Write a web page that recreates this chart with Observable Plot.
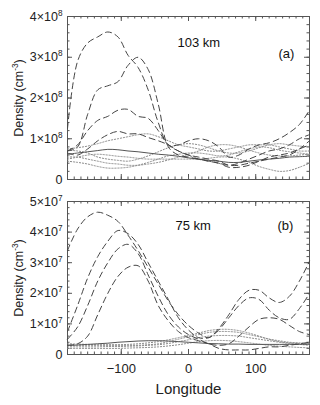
<!DOCTYPE html>
<html><head><meta charset="utf-8">
<script src="https://cdn.jsdelivr.net/npm/d3@7"></script>
<script src="https://cdn.jsdelivr.net/npm/@observablehq/plot@0.6"></script>
<style>
body{margin:0;background:#fff;font-family:"Liberation Sans",Arial,sans-serif;}
svg{display:block}
</style></head><body><div id="chart"></div>
<script>
// longitude grid
const lon = [-180,-165,-150,-135,-120,-105,-90,-75,-60,-45,-30,-15,0,15,30,45,60,75,90,105,120,135,150,165,180];

// 103 km panel (units of 1e8 cm^-3)
const top_dash1 = [1.25,2.9,3.35,3.5,3.62,3.5,3.05,2.75,2.2,1.4,0.85,0.85,0.95,1.0,0.95,0.8,0.55,0.6,0.75,0.85,0.9,1.0,1.15,1.35,1.7];
const top_dash2 = [0.7,0.8,1.6,2.2,2.3,2.4,2.8,3.0,2.7,1.85,0.8,0.6,0.55,0.5,0.45,0.4,0.35,0.4,0.5,0.6,0.7,0.75,0.85,1.0,1.1];
const top_dash3 = [0.7,0.85,1.2,1.45,1.55,1.7,1.72,1.55,1.5,1.2,0.85,0.7,0.6,0.55,0.5,0.45,0.35,0.35,0.4,0.45,0.5,0.55,0.6,0.75,0.95];
const top_dash4 = [0.65,0.6,0.75,0.95,1.1,1.18,1.12,1.12,1.03,0.95,0.85,0.7,0.6,0.5,0.45,0.4,0.3,0.3,0.35,0.45,0.55,0.6,0.65,0.75,0.85];
const top_solid = [0.62,0.65,0.68,0.71,0.74,0.73,0.7,0.68,0.65,0.62,0.6,0.57,0.53,0.5,0.47,0.45,0.42,0.42,0.45,0.48,0.5,0.52,0.55,0.56,0.57];
const top_dot1 = [0.75,0.78,0.82,0.88,0.95,1.0,1.05,1.1,1.12,1.05,0.95,0.85,0.8,0.75,0.7,0.7,0.75,0.8,0.85,0.85,0.85,0.8,0.75,0.7,0.7];
const top_dot2 = [0.55,0.55,0.5,0.45,0.4,0.38,0.35,0.35,0.38,0.42,0.48,0.55,0.62,0.7,0.8,0.85,0.85,0.8,0.72,0.65,0.6,0.58,0.58,0.6,0.62];
const top_dot3 = [0.5,0.55,0.6,0.62,0.6,0.57,0.55,0.52,0.5,0.5,0.5,0.5,0.5,0.5,0.52,0.55,0.55,0.5,0.42,0.32,0.25,0.2,0.22,0.3,0.4];
const top_dot4 = [0.72,0.7,0.65,0.55,0.5,0.47,0.45,0.5,0.58,0.68,0.78,0.85,0.88,0.85,0.78,0.7,0.65,0.65,0.7,0.78,0.85,0.88,0.85,0.82,0.8];
const top_dot5 = [0.45,0.42,0.38,0.32,0.28,0.28,0.3,0.35,0.42,0.5,0.58,0.62,0.65,0.65,0.62,0.58,0.6,0.68,0.75,0.8,0.78,0.72,0.68,0.65,0.62];

// 75 km panel (units of 1e7 cm^-3)
const bot_dash1 = [3.4,4.1,4.5,4.65,4.55,4.35,3.9,3.4,2.85,2.3,1.75,1.3,0.95,0.7,0.55,0.85,1.3,1.8,2.1,2.1,1.85,1.7,1.9,2.4,3.05];
const bot_dash2 = [0.75,1.6,2.5,3.2,3.7,4.05,3.95,3.6,3.0,2.4,1.8,1.2,0.8,0.55,0.55,0.8,1.2,1.6,1.85,1.8,1.45,1.2,1.15,1.5,2.0];
const bot_dash3 = [0.5,0.9,1.6,2.4,3.0,3.45,3.6,3.3,2.6,1.9,1.3,0.9,0.65,0.5,0.35,0.3,0.35,0.6,0.9,1.15,1.2,1.15,0.95,0.75,0.65];
const bot_dash4 = [0.3,0.35,0.6,1.3,2.0,2.55,2.85,2.9,2.4,1.6,1.1,0.75,0.55,0.45,0.35,0.2,0.15,0.15,0.15,0.2,0.25,0.25,0.3,0.35,0.4];
const bot_solid = [0.3,0.31,0.33,0.35,0.37,0.4,0.42,0.44,0.45,0.45,0.44,0.42,0.4,0.38,0.36,0.35,0.34,0.34,0.33,0.33,0.33,0.33,0.33,0.33,0.33];
const bot_dot1 = [0.3,0.3,0.3,0.3,0.3,0.3,0.3,0.3,0.32,0.35,0.42,0.5,0.58,0.65,0.72,0.75,0.75,0.72,0.65,0.58,0.5,0.45,0.4,0.38,0.35];
const bot_dot2 = [0.25,0.25,0.25,0.25,0.26,0.26,0.27,0.28,0.3,0.32,0.36,0.42,0.48,0.55,0.6,0.62,0.62,0.6,0.55,0.5,0.45,0.4,0.36,0.33,0.3];
const bot_dot3 = [0.2,0.2,0.2,0.2,0.2,0.2,0.21,0.22,0.23,0.25,0.28,0.32,0.37,0.42,0.45,0.46,0.45,0.42,0.38,0.34,0.3,0.27,0.25,0.23,0.22];
const bot_dot4 = [0.35,0.34,0.33,0.32,0.32,0.32,0.33,0.35,0.38,0.42,0.48,0.55,0.62,0.7,0.78,0.82,0.82,0.78,0.7,0.6,0.5,0.42,0.38,0.36,0.35];

// ticks and labels
const xMajor = [-100,0,100];
const xMinor = d3.range(-180,181,10);
const topYMajor = [0,1e8,2e8,3e8,4e8];
const topYMinor = d3.range(0,4.01e8,0.2e8);
const botYMajor = [0,1e7,2e7,3e7,4e7,5e7];
const botYMinor = d3.range(0,5.01e7,0.2e7);
const topTitle = "103 km", topTag = "(a)";
const botTitle = "75 km", botTag = "(b)";
const yTitle = "Density (cm^-3)";
const xTitle = "Longitude";

function rows(groups, unit){
  const out = [];
  for (const [name, style, vals] of groups)
    vals.forEach((v,i)=>out.push({series:name, style, lon:lon[i], v:v*unit}));
  return out;
}
const FONT = "Liberation Sans, Arial, sans-serif";
const W = 320, ML = 67, MR = 11;
const PW = W - ML - MR;

// turn "a^b" text into base + raised superscript tspan
function superscripts(svg){
  svg.querySelectorAll("text").forEach(t=>{
    const s = t.textContent;
    if (!s.includes("^") || t.children.length) return;
    const [base, rest] = s.split("^");
    const m = rest.match(/^(-?\d+)(.*)$/);
    const fs = parseFloat(t.getAttribute("font-size") || getComputedStyle(t).fontSize) || 12;
    t.textContent = "";
    const ns = "http://www.w3.org/2000/svg";
    const a = document.createElementNS(ns,"tspan"); a.textContent = base; t.appendChild(a);
    const b = document.createElementNS(ns,"tspan"); b.textContent = m[1].replace("-","−").replace("−","-");
    b.setAttribute("dy", (-fs*0.42).toFixed(1)); b.setAttribute("font-size", (fs*0.68).toFixed(1)); t.appendChild(b);
    if (m[2]) { const c = document.createElementNS(ns,"tspan"); c.textContent = m[2]; c.setAttribute("dy",(fs*0.42).toFixed(1)); t.appendChild(c); }
  });
}

function panel({data, yDomain, yMajor, yMinor, exp, height, mt, mb, title, tag, titleDx, titleDy, tagDx, tagDy, showX}){
  const PH = height - mt - mb;
  const lineOpts = {x:"lon", y:"v", z:"series", curve:"catmull-rom", strokeWidth:1};
  const fmt = v => v===0 ? "0" : `${Math.round(v/Math.pow(10,exp))}×10^${exp}`;
  const tickCol = "#555";
  const marks = [
    Plot.frame({stroke:"#555", strokeWidth:1}),
    Plot.tickX(xMajor,{x:d=>d, insetTop:PH-5, stroke:tickCol}),
    Plot.tickX(xMinor,{x:d=>d, insetTop:PH-2.5, stroke:tickCol}),
    Plot.tickX(xMajor,{x:d=>d, insetBottom:PH-5, stroke:tickCol}),
    Plot.tickX(xMinor,{x:d=>d, insetBottom:PH-2.5, stroke:tickCol}),
    Plot.tickY(yMajor,{y:d=>d, insetRight:PW-5, stroke:tickCol}),
    Plot.tickY(yMinor,{y:d=>d, insetRight:PW-2.5, stroke:tickCol}),
    Plot.tickY(yMajor,{y:d=>d, insetLeft:PW-5, stroke:tickCol}),
    Plot.tickY(yMinor,{y:d=>d, insetLeft:PW-2.5, stroke:tickCol}),
    Plot.axisY({ticks:yMajor, tickSize:0, tickPadding:5, tickFormat:fmt, fontSize:12.5, fill:"#222"}),
    Plot.line(data.filter(d=>d.style==="dot"), {...lineOpts, stroke:"#888", strokeDasharray:"1.2,1.8"}),
    Plot.line(data.filter(d=>d.style==="solid"), {...lineOpts, stroke:"#555"}),
    Plot.line(data.filter(d=>d.style==="dash"), {...lineOpts, stroke:"#444", strokeDasharray:"6,4"}),
    Plot.text([title],{frameAnchor:"top-left", textAnchor:"start", lineAnchor:"middle", dx:titleDx, dy:titleDy, fontSize:13, fill:"#111"}),
    Plot.text([tag],{frameAnchor:"top-left", textAnchor:"start", lineAnchor:"middle", dx:tagDx, dy:tagDy, fontSize:13, fill:"#111"}),
    Plot.text([yTitle],{frameAnchor:"left", rotate:-90, dx:-49, textAnchor:"middle", lineAnchor:"middle", fontSize:12.5, fill:"#222"})
  ];
  if (showX) {
    marks.push(Plot.axisX({ticks:xMajor, tickSize:0, tickPadding:9, fontSize:13, fill:"#222", label:null}));
    marks.push(Plot.text([xTitle],{frameAnchor:"bottom", dy:35, lineAnchor:"middle", fontSize:15, fill:"#222"}));
  } else {
    marks.push(Plot.axisX({ticks:[], label:null}));
  }
  const svg = Plot.plot({
    width:W, height, marginLeft:ML, marginRight:MR, marginTop:mt, marginBottom:mb,
    style:{fontFamily:FONT, background:"#fff", overflow:"visible"},
    x:{domain:[-180,180], label:null},
    y:{domain:yDomain, label:null},
    marks
  });
  superscripts(svg);
  return svg;
}

const topData = rows([
  ["d1","dash",top_dash1],["d2","dash",top_dash2],["d3","dash",top_dash3],["d4","dash",top_dash4],
  ["s","solid",top_solid],
  ["p1","dot",top_dot1],["p2","dot",top_dot2],["p3","dot",top_dot3],["p4","dot",top_dot4],["p5","dot",top_dot5]
], 1e8);
const botData = rows([
  ["d1","dash",bot_dash1],["d2","dash",bot_dash2],["d3","dash",bot_dash3],["d4","dash",bot_dash4],
  ["s","solid",bot_solid],
  ["p1","dot",bot_dot1],["p2","dot",bot_dot2],["p3","dot",bot_dot3],["p4","dot",bot_dot4]
], 1e7);

const el = document.getElementById("chart");
el.append(panel({data:topData, yDomain:[0,4e8], yMajor:topYMajor, yMinor:topYMinor, exp:8,
  height:195, mt:16, mb:16, title:topTitle, tag:topTag, titleDx:110, titleDy:26, tagDx:211, tagDy:37, showX:false}));
el.append(panel({data:botData, yDomain:[0,5e7], yMajor:botYMajor, yMinor:botYMinor, exp:7,
  height:210, mt:6, mb:51, title:botTitle, tag:botTag, titleDx:108, titleDy:24, tagDx:210, tagDy:24, showX:true}));
</script></body></html>
